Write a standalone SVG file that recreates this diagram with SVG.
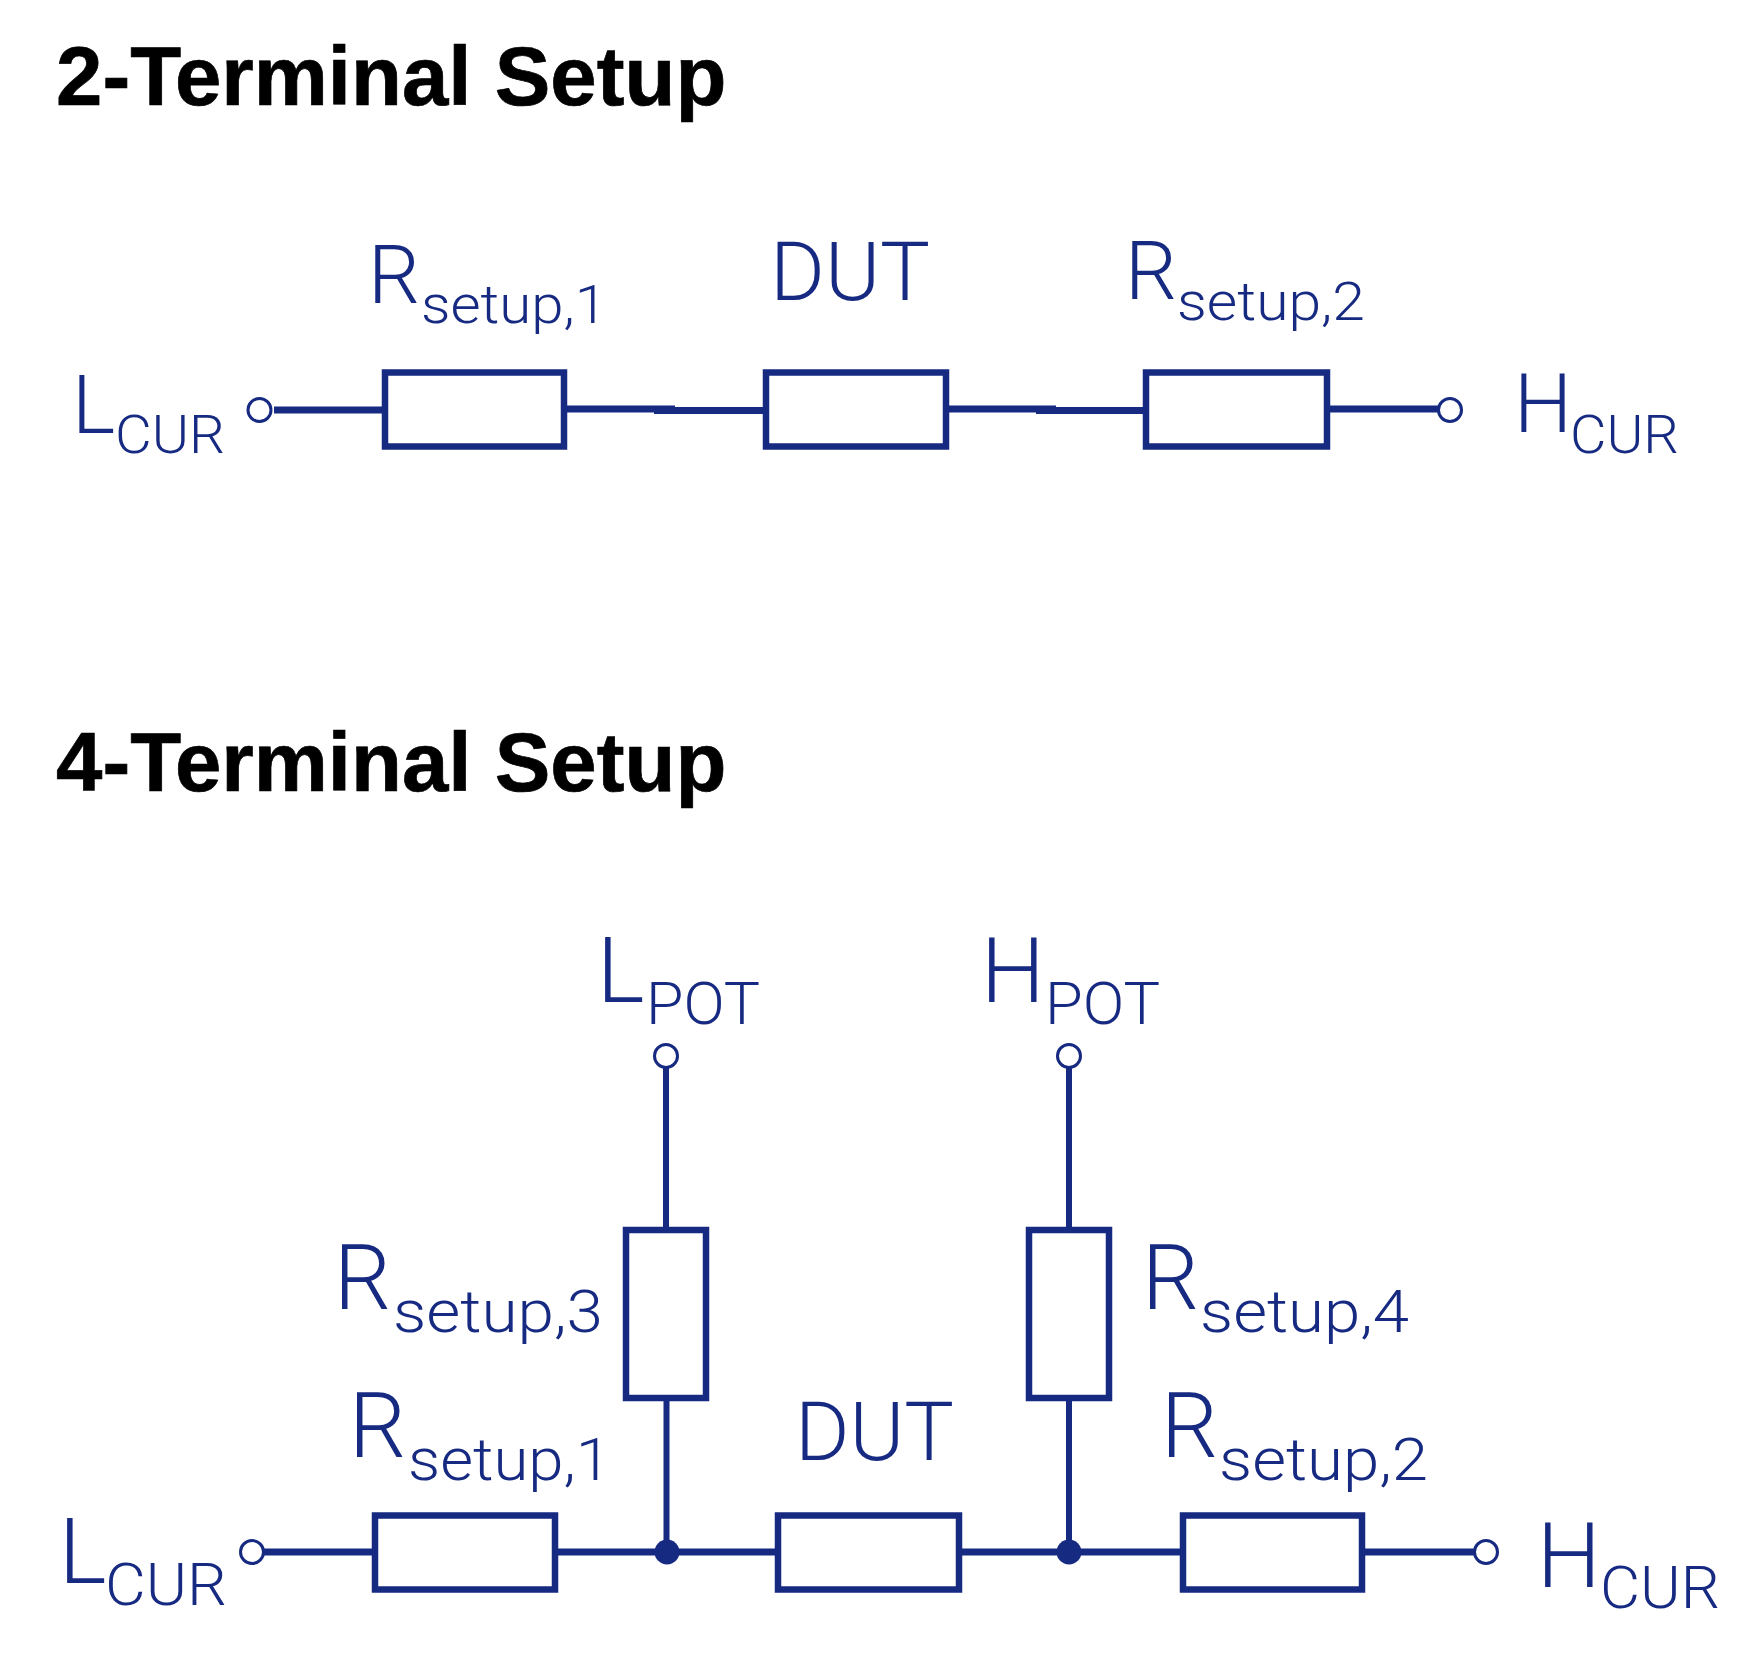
<svg xmlns="http://www.w3.org/2000/svg" width="1758" height="1665" viewBox="0 0 1758 1665">
<style>
.t{font-family:"Liberation Sans",Arial,sans-serif;font-weight:700;font-size:83.4px;fill:#000;stroke:#000;stroke-width:.7}
.m,.s,.m2,.s2{font-family:Roboto,"Liberation Sans",sans-serif;font-weight:300;fill:#172a82}
.m{font-size:82px}.s{font-size:54px}.m2{font-size:90px}.s2{font-size:60px}
.b{fill:#fff;stroke:#172a82;stroke-width:6.5}
.w{fill:none;stroke:#172a82;stroke-width:7}
.v{fill:none;stroke:#172a82;stroke-width:6}
.o{fill:#fff;stroke:#172a82;stroke-width:3}
.d{fill:#172a82}
</style>
<rect width="1758" height="1665" fill="#fff"/>
<g id="titles">
<text class="t" x="56" y="105">2-Terminal Setup</text>
<text class="t" x="56" y="790.500">4-Terminal Setup</text>
</g>
<g id="connectors">
<path class="w" d="M274 410H385"/>
<path class="w" d="M567 409H675"/>
<path class="w" d="M654 410.500H766"/>
<path class="w" d="M948 409H1056"/>
<path class="w" d="M1036 410.500H1146"/>
<path class="w" d="M1327 409H1438"/>
<path class="w" d="M263 1552H375"/>
<path class="w" d="M555 1552H778"/>
<path class="w" d="M959 1552H1183"/>
<path class="w" d="M1362 1552H1475"/>
<path class="v" d="M666 1067V1230"/>
<path class="v" d="M666.500 1398V1552"/>
<path class="v" d="M1069 1067V1230"/>
<path class="v" d="M1069 1398V1552"/>
</g>
<g id="t2-lcur"><circle class="o" cx="259.500" cy="410" r="11.500"/>
<text class="m" x="72" y="432.700">L</text><text class="s" x="115" y="452.700" textLength="110" lengthAdjust="spacingAndGlyphs">CUR</text></g>
<g id="t2-r1"><rect class="b" x="385" y="372.500" width="179" height="74"/>
<text class="m" x="368" y="302.700">R</text><text class="s" x="421" y="322.700" textLength="186" lengthAdjust="spacingAndGlyphs">setup,1</text></g>
<g id="t2-dut"><rect class="b" x="766" y="372.500" width="180" height="74"/>
<text class="m" x="770" y="299.500" textLength="160" lengthAdjust="spacingAndGlyphs">DUT</text></g>
<g id="t2-r2"><rect class="b" x="1146" y="372.500" width="181" height="74"/>
<text class="m" x="1125" y="299.300">R</text><text class="s" x="1177" y="320" textLength="188" lengthAdjust="spacingAndGlyphs">setup,2</text></g>
<g id="t2-hcur"><circle class="o" cx="1450" cy="410" r="11.500"/>
<text class="m" x="1514" y="432.300">H</text><text class="s" x="1570" y="452.700" textLength="109" lengthAdjust="spacingAndGlyphs">CUR</text></g>
<g id="t4-lpot"><circle class="o" cx="666" cy="1056" r="11.500"/>
<text class="m2" x="597" y="1001.700">L</text><text class="s2" x="646" y="1023.700" textLength="114" lengthAdjust="spacingAndGlyphs">POT</text></g>
<g id="t4-hpot"><circle class="o" cx="1069" cy="1056" r="11.500"/>
<text class="m2" x="981" y="1001.700">H</text><text class="s2" x="1045" y="1023.700" textLength="115" lengthAdjust="spacingAndGlyphs">POT</text></g>
<g id="t4-r3"><rect class="b" x="626" y="1230" width="80" height="168"/>
<text class="m2" x="334" y="1309">R</text><text class="s2" x="393" y="1332" textLength="210" lengthAdjust="spacingAndGlyphs">setup,3</text></g>
<g id="t4-r4"><rect class="b" x="1029" y="1230" width="80" height="168"/>
<text class="m2" x="1142" y="1309">R</text><text class="s2" x="1200" y="1332" textLength="209" lengthAdjust="spacingAndGlyphs">setup,4</text></g>
<g id="t4-lcur"><circle class="o" cx="252" cy="1552" r="11.500"/>
<text class="m2" x="59" y="1583">L</text><text class="s2" x="105" y="1605" textLength="122" lengthAdjust="spacingAndGlyphs">CUR</text></g>
<g id="t4-r1"><rect class="b" x="375" y="1515.500" width="180" height="74"/>
<text class="m2" x="349" y="1457">R</text><text class="s2" x="408" y="1480" textLength="203" lengthAdjust="spacingAndGlyphs">setup,1</text></g>
<g id="t4-dut"><rect class="b" x="778" y="1515.500" width="181" height="74"/>
<text class="m" x="795" y="1460" textLength="159" lengthAdjust="spacingAndGlyphs">DUT</text></g>
<g id="t4-r2"><rect class="b" x="1183" y="1515.500" width="179" height="74"/>
<text class="m2" x="1161" y="1457">R</text><text class="s2" x="1219" y="1480" textLength="209" lengthAdjust="spacingAndGlyphs">setup,2</text></g>
<g id="t4-hcur"><circle class="o" cx="1486" cy="1552" r="11.500"/>
<text class="m2" x="1537" y="1586.700">H</text><text class="s2" x="1600" y="1608" textLength="120" lengthAdjust="spacingAndGlyphs">CUR</text></g>
<g id="junctions"><circle class="d" cx="667" cy="1552" r="12.500"/><circle class="d" cx="1069" cy="1552" r="12.500"/></g>
</svg>
